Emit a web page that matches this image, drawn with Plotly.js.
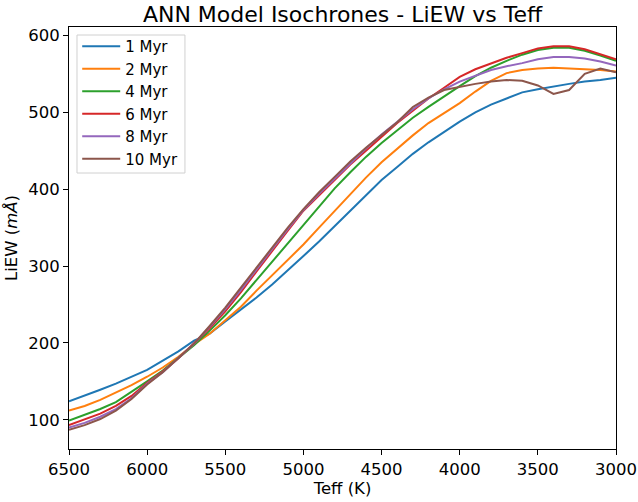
<!DOCTYPE html>
<html>
<head>
<meta charset="utf-8">
<script src="https://cdn.plot.ly/plotly-3.0.1.min.js"></script>
<style>html,body{margin:0;padding:0;background:#fff}#chart{width:638px;height:502px}</style>
</head>
<body>
<div id="chart"></div>
<script>
var teff = [6500,6400,6300,6200,6100,6000,5900,5800,5700,5600,5500,5400,5300,5200,5100,5000,4900,4800,4700,4600,4500,4400,4300,4200,4100,4000,3900,3800,3700,3600,3500,3400,3300,3200,3100,3000];
var seriesNames = ["1 Myr","2 Myr","4 Myr","6 Myr","8 Myr","10 Myr"];
var liew1 = [124,131,139,147,156,165,177,189,203,212,228,243,259,276,294,313,332,352,372,392,412,429,446,461,475,488,500,510,518,526,530,534,537,540,542,545];
var liew2 = [112,118,126,135,145,156,168,182,198,212,229,247,268,288,308,328,350,372,394,415,435,453,470,486,499,512,527,541,551,555,557,558,557,556,555,553];
var liew4 = [99,106,114,123,136,150,164,180,197,216,236,258,282,306,330,354,378,401,422,442,460,477,493,507,521,534,547,558,567,575,581,584,584,580,574,567];
var liew6 = [93,100,108,118,131,148,163,180,199,219,241,266,293,320,346,372,392,412,432,450,468,486,502,518,532,546,556,564,571,577,583,586,586,582,576,569];
var liew8 = [90,96,104,114,128,147,162,180,199,221,244,269,296,322,348,373,394,414,434,453,471,488,504,518,530,540,548,555,560,564,569,572,572,570,566,561];
var liew10 = [87,93,101,112,127,146,162,180,199,222,246,272,298,324,350,374,396,416,436,454,471,487,507,519,529,533,537,540,542,541,535,524,529,550,557,552];
var colors = ["#1f77b4","#ff7f0e","#2ca02c","#d62728","#9467bd","#8c564b"];
var allSeries = [liew1, liew2, liew4, liew6, liew8, liew10];

var traces = allSeries.map(function(ys, i){
  return {x: teff, y: ys, type: "scatter", mode: "lines", name: seriesNames[i],
          line: {color: colors[i], width: 2}};
});

var fontFam = "DejaVu Sans, sans-serif";
var layout = {
  width: 638, height: 502,
  margin: {l: 69, r: 22, t: 27, b: 53},
  paper_bgcolor: "#fff", plot_bgcolor: "#fff",
  font: {family: fontFam, color: "#000", size: 16},
  title: {text: "ANN Model Isochrones - LiEW vs Teff", font: {family: fontFam, size: 22, color: "#000"},
          x: 0.5, xref: "paper", y: 0.972, yref: "container", yanchor: "middle"},
  xaxis: {range: [6500, 3000], tickvals: [6500,6000,5500,5000,4500,4000,3500,3000],
          ticks: "outside", ticklen: 5, tickcolor: "#000", showgrid: false, zeroline: false,
          showline: true, mirror: true, linecolor: "#000", linewidth: 1,
          tickfont: {size: 16.5}, title: {text: "Teff (K)", font: {size: 16.5}, standoff: 4}},
  yaxis: {range: [62, 611], tickvals: [100,200,300,400,500,600],
          ticks: "outside", ticklen: 5, tickcolor: "#000", showgrid: false, zeroline: false,
          showline: true, mirror: true, linecolor: "#000", linewidth: 1,
          tickfont: {size: 16.5}, title: {text: "LiEW (<i>mÅ</i>)", font: {size: 16.5}, standoff: 6}},
  legend: {x: 0.015, y: 0.993, xanchor: "left", yanchor: "top", bgcolor: "rgba(0,0,0,0)",
           borderwidth: 0, font: {size: 15}, itemwidth: 38},
  shapes: [{type: "rect", xref: "paper", yref: "paper",
            x0: 0.0146, x1: 0.212, y0: 1 - (173 - 27) / 422, y1: 1 - (35 - 27) / 422,
            line: {color: "#d0d0d0", width: 1}, fillcolor: "rgba(255,255,255,0.8)", layer: "below"}],
  showlegend: true
};
Plotly.newPlot("chart", traces, layout, {displayModeBar: false, staticPlot: true});
</script>
</body>
</html>
